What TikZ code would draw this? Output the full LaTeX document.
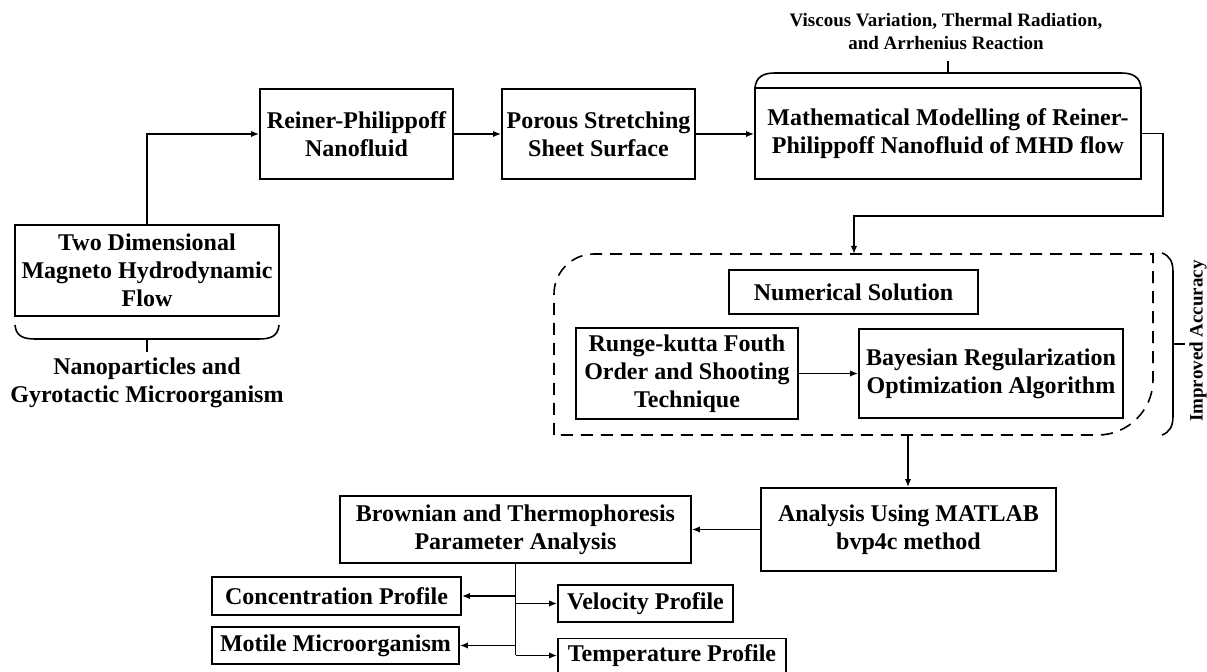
\documentclass[tikz,border=0pt]{standalone}
\usepackage{fontspec}
\setmainfont{Liberation Serif}
\usepackage{tikz}
\usetikzlibrary{arrows.meta}

\tikzset{
	blk/.style={draw, line width=0.9pt, align=center, inner sep=1pt, font=\fontsize{12}{14}\selectfont\bfseries},
	lbl/.style={align=center, inner sep=0pt, font=\fontsize{12}{14}\selectfont\bfseries},
	note/.style={align=center, inner sep=0pt, font=\fontsize{9.5}{11.5}\selectfont\bfseries},
	lnk/.style={line width=0.8pt},
}

\begin{document}
\begin{tikzpicture}[x=0.5pt,y=-0.5pt,>={Latex[length=4pt,width=3.2pt]}]
		\useasboundingbox (0,0) rectangle (1207,672);
		\node[blk, minimum width=132pt, minimum height=45.5pt] (td) at (147,270.5) {Two Dimensional\\Magneto Hydrodynamic\\Flow};
		\node[blk, minimum width=96.5pt, minimum height=45pt] (rp) at (356.5,134) {Reiner-Philippoff\\Nanofluid};
		\node[blk, minimum width=96.5pt, minimum height=45pt] (ps) at (598.5,134) {Porous Stretching\\Sheet Surface};
		\node[blk, minimum width=193pt, minimum height=45.5pt] (mm) at (948,133.5) {Mathematical Modelling of Reiner-\\Philippoff Nanofluid of MHD flow};
		\node[blk, minimum width=124.5pt, minimum height=22pt] (ns) at (853.5,292) {Numerical Solution};
		\node[blk, minimum width=111pt, minimum height=45.5pt] (rk) at (687,373.5) {Runge-kutta Fouth\\Order and Shooting\\Technique};
		\node[blk, minimum width=132pt, minimum height=44.5pt] (br) at (991,373.5) {Bayesian Regularization\\Optimization Algorithm};
		\node[blk, minimum width=147.5pt, minimum height=41.5pt] (an) at (908.5,529.5) {Analysis Using MATLAB\\bvp4c method};
		\node[blk, minimum width=175.5pt, minimum height=33.5pt] (bt) at (515.5,529.5) {Brownian and Thermophoresis\\Parameter Analysis};
		\node[blk, minimum width=124.5pt, minimum height=19pt] (cp) at (336.5,596) {Concentration Profile};
		\node[blk, minimum width=123.5pt, minimum height=18.5pt] (mo) at (335.5,645.5) {Motile Microorganism};
		\node[blk, minimum width=87.5pt, minimum height=18.5pt] (vp) at (645.5,603.5) {Velocity Profile};
		\node[blk, minimum width=114pt, minimum height=17pt] (tp) at (672,655.5) {Temperature Profile};
		%
		\node[lbl] (np) at (147,382.5) {Nanoparticles and\\Gyrotactic Microorganism};
		\node[note] (vr) at (946,31.5) {Viscous Variation, Thermal Radiation,\\and Arrhenius Reaction};
		\node[note, rotate=90] (ia) at (1198,341) {Improved Accuracy};
		\coordinate (dtop) at (854,254);
		\coordinate (dbot) at (908,435);
		\coordinate (mmturn) at (1163,216);
		% dashed frame
		\draw[lnk, dash pattern=on 6pt off 4pt] (554,435) -- (554,294) .. controls (554,272) and (572,254) .. (594,254) -- (1153,254) -- (1153,380) .. controls (1153,410) and (1128,435) .. (1098,435) -- cycle;
		% braces
		\draw[lnk] (755,88) .. controls (756,77) and (763,73) .. (775,73) -- (1121,73) .. controls (1133,73) and (1140,77) .. (1141,88);
		\draw[lnk] (948,73) -- (948,61);
		\draw[lnk] (15,325) .. controls (16,336) and (23,339) .. (35,339) -- (259,339) .. controls (271,339) and (278,336) .. (279,325);
		\draw[lnk] (147,339) -- (147,352);
		\draw[lnk] (1162,253) .. controls (1170,256) and (1173,262) .. (1173,272) -- (1173,416) .. controls (1173,426) and (1170,432) .. (1162,435);
		\draw[lnk] (1173,344) -- (1185,344);
		%
		\draw[lnk,->] (td.north) |- (rp.west);
		\draw[lnk,->] (ps.east) -- (ps.east -| mm.west);
		\draw[lnk,->] (mm.east) -| (mmturn) -| (dtop);
		\draw[lnk,->] (dbot) -- (dbot |- an.north);
		\draw[lnk] (bt.south) -- (bt.south |- tp.west);
		\path[->,lnk]
		(rp) edge (ps)
		(rk) edge (br)
		(an) edge (bt)
		(bt.south |- cp.east) edge (cp.east)
		(bt.south |- mo.east) edge (mo.east)
		(bt.south |- vp.west) edge (vp.west)
		(bt.south |- tp.west) edge (tp.west);
	\end{tikzpicture}
\end{document}
